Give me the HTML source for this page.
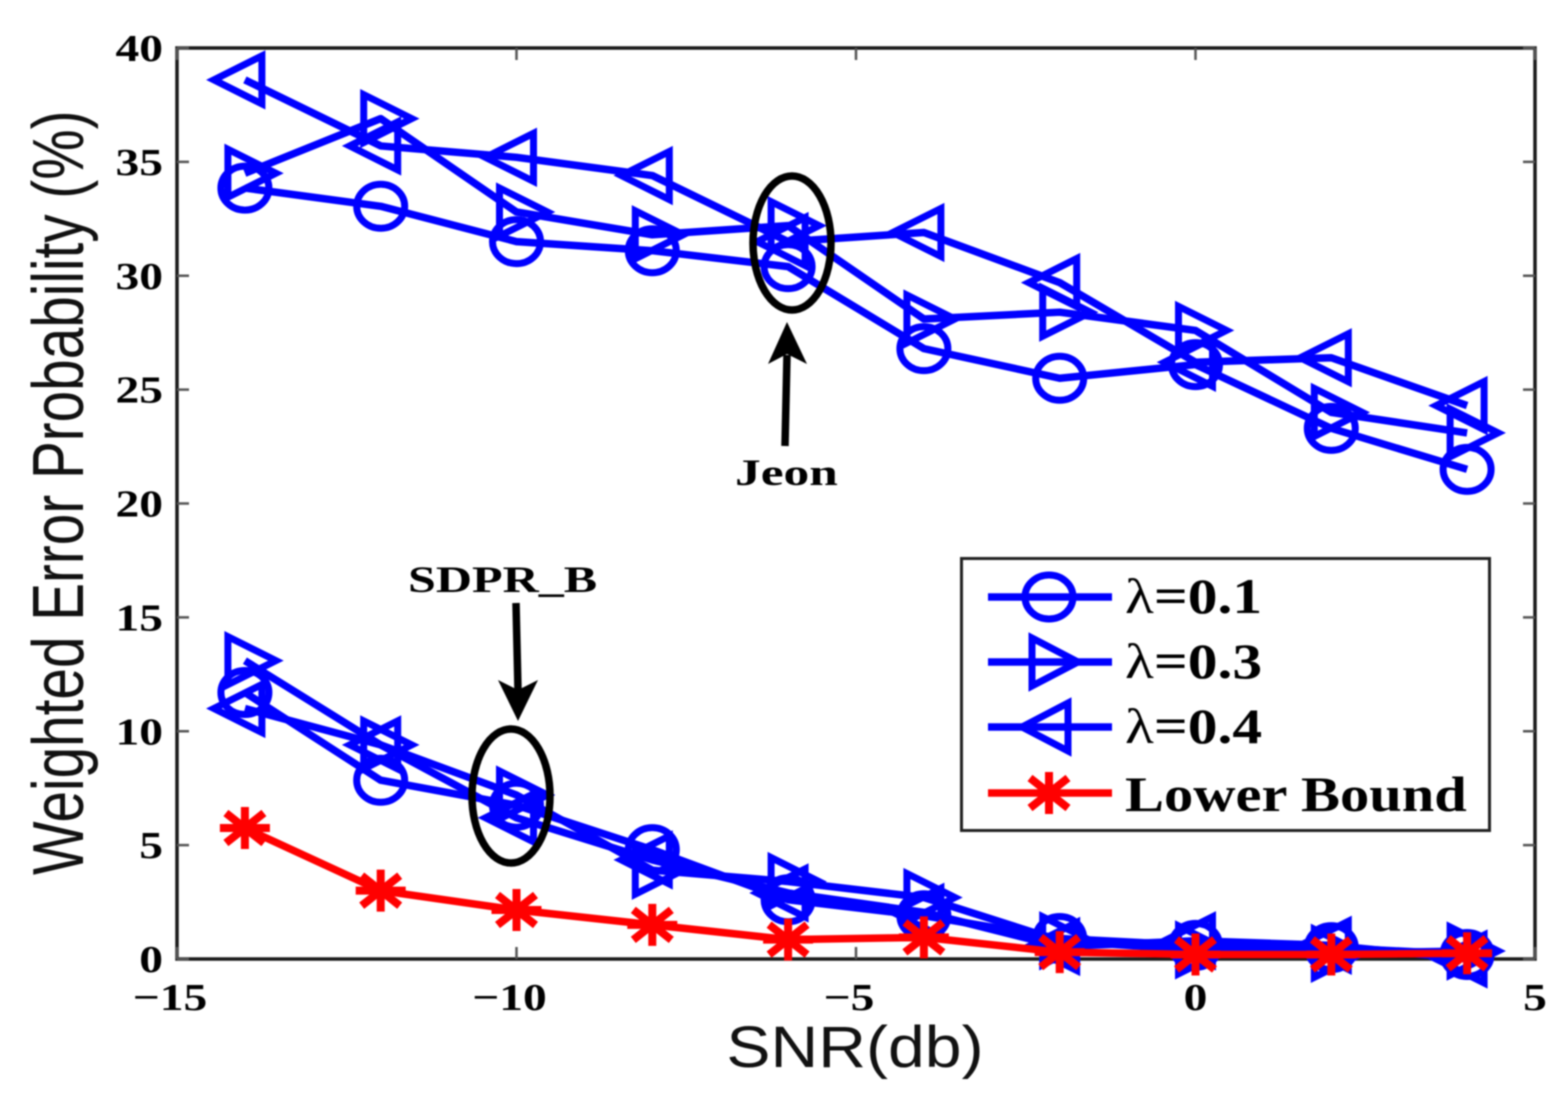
<!DOCTYPE html>
<html lang="en">
<head>
<meta charset="utf-8">
<title>Weighted Error Probability vs SNR</title>
<style>
html,body{margin:0;padding:0;background:#fff;width:1568px;height:1107px;overflow:hidden}
svg{display:block;filter:blur(0.7px)}
.tick-label{font-family:"Liberation Serif",serif;font-weight:bold;font-size:38px;fill:#000}
.axis-title{font-family:"Liberation Sans",sans-serif;fill:#111}
.serif-bold{font-family:"Liberation Serif",serif;font-weight:bold;fill:#000}
</style>
</head>
<body>
<svg id="chart" width="1568" height="1107" viewBox="0 0 1568 1107" xmlns="http://www.w3.org/2000/svg">
  <rect x="0" y="0" width="1568" height="1107" fill="#fff"/>
  <g id="frame"></g>
  <g id="series"></g>

  <g>
    <ellipse cx="792" cy="243" rx="39" ry="67" fill="none" stroke="#000" stroke-width="7.5"/>
    <line x1="785" y1="446" x2="787" y2="355" stroke="#000" stroke-width="7.5"/>
    <polygon points="787,322 807,364 787,354 768,364" fill="#000"/>
    <text class="serif-bold" font-size="37" transform="translate(735,485) scale(1.39,1)">Jeon</text>
  </g>
  <g>
    <ellipse cx="511" cy="796" rx="39" ry="67" fill="none" stroke="#000" stroke-width="7.5"/>
    <line x1="516" y1="603" x2="518" y2="690" stroke="#000" stroke-width="7.5"/>
    <polygon points="518,721 538,680 518,690 498,680" fill="#000"/>
    <text class="serif-bold" font-size="37" transform="translate(408,592) scale(1.354,1)">SDPR_B</text>
  </g>

  <g id="legend">
    <rect x="961.5" y="558.5" width="528" height="272" fill="#fff" stroke="#222" stroke-width="3"/>
    <g>
      <line x1="988" y1="597" x2="1112" y2="597" stroke="#0000ff" stroke-width="7.5"/>
      <ellipse cx="1049" cy="597" rx="24" ry="22" fill="none" stroke="#0000ff" stroke-width="7"/>
      <text class="serif-bold" font-size="50" transform="translate(1125,613) scale(1.19,1)"><tspan font-weight="normal">λ</tspan>=0.1</text>
    </g>
    <g>
      <line x1="988" y1="662" x2="1112" y2="662" stroke="#0000ff" stroke-width="7.5"/>
      <polygon points="1032,638 1032,686 1078,662" fill="none" stroke="#0000ff" stroke-width="7"/>
      <text class="serif-bold" font-size="50" transform="translate(1125,678) scale(1.19,1)"><tspan font-weight="normal">λ</tspan>=0.3</text>
    </g>
    <g>
      <line x1="988" y1="727" x2="1112" y2="727" stroke="#0000ff" stroke-width="7.5"/>
      <polygon points="1068,703 1068,751 1022,727" fill="none" stroke="#0000ff" stroke-width="7"/>
      <text class="serif-bold" font-size="50" transform="translate(1125,743) scale(1.19,1)"><tspan font-weight="normal">λ</tspan>=0.4</text>
    </g>
    <g>
      <line x1="988" y1="793" x2="1112" y2="793" stroke="#ff0000" stroke-width="7.5"/>
      <g stroke="#ff0000" stroke-width="8">
        <line x1="1049" y1="772" x2="1049" y2="814"/>
        <line x1="1030" y1="778" x2="1068" y2="808"/>
        <line x1="1030" y1="808" x2="1068" y2="778"/>
      </g>
      <text class="serif-bold" font-size="50" transform="translate(1125,811) scale(1.17,1)">Lower Bound</text>
    </g>
  </g>

  <text class="axis-title" font-size="58" text-anchor="middle" transform="translate(855,1067) scale(1.14,1)">SNR(db)</text>
  <text class="axis-title" font-size="56.7" transform="translate(83,875) rotate(-90) scale(1,1.27)">Weighted Error Probability (%)</text>
</svg>

<script>
const snrPoints = [-14, -12, -10, -8, -6, -4, -2, 0, 2, 4];
const xTickValues = [-15, -10, -5, 0, 5];
const xTickLabels = ['\u221215', '\u221210', '\u22125', '0', '5'];
const yTickValues = [0, 5, 10, 15, 20, 25, 30, 35, 40];
const yTickLabels = ['0', '5', '10', '15', '20', '25', '30', '35', '40'];

const jeonLambda01 = [33.85, 33.05, 31.5, 31.1, 30.4, 26.8, 25.5, 26.1, 23.3, 21.5];
const jeonLambda03 = [34.5, 36.9, 32.8, 31.8, 32.2, 28.1, 28.4, 27.6, 24.0, 23.1];
const jeonLambda04 = [38.6, 35.7, 35.2, 34.4, 31.5, 31.9, 29.7, 26.2, 26.4, 24.3];
const sdprLambda01 = [11.7, 7.85, 6.75, 4.8, 2.6, 1.9, 0.9, 0.6, 0.5, 0.2];
const sdprLambda03 = [13.1, 9.4, 7.2, 3.9, 3.4, 2.7, 0.8, 0.4, 0.25, 0.35];
const sdprLambda04 = [11.0, 9.4, 6.2, 4.35, 2.9, 2.05, 0.55, 0.8, 0.6, 0.0];
const lowerBound = [5.75, 3.0, 2.15, 1.5, 0.85, 0.95, 0.3, 0.2, 0.2, 0.25];

const plotLeft = 177, plotRight = 1535, plotTop = 48, plotBottom = 959;
const xMin = -15, xMax = 5, yMin = 0, yMax = 40;
const NS = 'http://www.w3.org/2000/svg';

function xScale(v) { return plotLeft + (v - xMin) / (xMax - xMin) * (plotRight - plotLeft); }
function yScale(v) { return plotBottom - (v - yMin) / (yMax - yMin) * (plotBottom - plotTop); }

function mk(tag, attrs, parent) {
  const el = document.createElementNS(NS, tag);
  for (const k in attrs) el.setAttribute(k, attrs[k]);
  parent.appendChild(el);
  return el;
}

const frame = document.getElementById('frame');
const seriesLayer = document.getElementById('series');

function drawFrame() {
  const box = mk('rect', {x: plotLeft, y: plotTop, width: plotRight - plotLeft, height: plotBottom - plotTop, fill: 'none', stroke: '#1a1a1a', 'stroke-width': 3.5}, frame);
  
  

  xTickValues.forEach(function (v, i) {
    const x = xScale(v);
    const bottomTick = mk('line', {x1: x, y1: plotBottom, x2: x, y2: plotBottom - 12, stroke: '#555', 'stroke-width': 2.5}, frame);
    
    
    const topTick = mk('line', {x1: x, y1: plotTop, x2: x, y2: plotTop + 12, stroke: '#555', 'stroke-width': 2.5}, frame);
    
    
    const label = mk('text', {'class': 'tick-label', 'text-anchor': 'middle', transform: 'translate(' + (v < 0 ? x - 7 : x) + ',1010) scale(1.25,1)'}, frame);
    
    
    label.textContent = xTickLabels[i];
  });

  yTickValues.forEach(function (v, i) {
    const y = yScale(v);
    const leftTick = mk('line', {x1: plotLeft, y1: y, x2: plotLeft + 12, y2: y, stroke: '#555', 'stroke-width': 2.5}, frame);
    
    
    const rightTick = mk('line', {x1: plotRight, y1: y, x2: plotRight - 12, y2: y, stroke: '#555', 'stroke-width': 2.5}, frame);
    
    
    const label = mk('text', {'class': 'tick-label', 'text-anchor': 'end', transform: 'translate(163,' + (y + 13) + ') scale(1.25,1)'}, frame);
    
    
    label.textContent = yTickLabels[i];
  });
}

function drawMarker(group, shape, cx, cy, color) {
  let m;
  if (shape === 'circle') {
    m = mk('ellipse', {cx: cx, cy: cy, rx: 24, ry: 22, fill: 'none', stroke: color, 'stroke-width': 7}, group);
    
  } else if (shape === 'right') {
    m = mk('polygon', {points: (cx - 17) + ',' + (cy - 24) + ' ' + (cx - 17) + ',' + (cy + 24) + ' ' + (cx + 31) + ',' + cy, fill: 'none', stroke: color, 'stroke-width': 7}, group);
    
  } else if (shape === 'left') {
    m = mk('polygon', {points: (cx + 17) + ',' + (cy - 24) + ' ' + (cx + 17) + ',' + (cy + 24) + ' ' + (cx - 31) + ',' + cy, fill: 'none', stroke: color, 'stroke-width': 7}, group);
    
  } else {
    m = mk('g', {stroke: color, 'stroke-width': 8}, group);
    
    mk('line', {x1: cx, y1: cy - 21, x2: cx, y2: cy + 21}, m);
    mk('line', {x1: cx - 25, y1: cy, x2: cx + 25, y2: cy}, m);
    mk('line', {x1: cx - 19, y1: cy - 15, x2: cx + 19, y2: cy + 15}, m);
    mk('line', {x1: cx - 19, y1: cy + 15, x2: cx + 19, y2: cy - 15}, m);
  }
  
}

function drawSeries(name, values, shape, color) {
  const group = mk('g', {}, seriesLayer);
  
  
  const pts = values.map(function (v, i) { return xScale(snrPoints[i]) + ',' + yScale(v); }).join(' ');
  const line = mk('polyline', {points: pts, fill: 'none', stroke: color, 'stroke-width': 7.5, 'stroke-linejoin': 'round'}, group);
  
  
  values.forEach(function (v, i) {
    drawMarker(group, shape, xScale(snrPoints[i]), yScale(v), color);
  });
}

drawFrame();
drawSeries('jeon-lambda-0-1', jeonLambda01, 'circle', '#0000ff');
drawSeries('jeon-lambda-0-3', jeonLambda03, 'right', '#0000ff');
drawSeries('jeon-lambda-0-4', jeonLambda04, 'left', '#0000ff');
drawSeries('sdpr-lambda-0-1', sdprLambda01, 'circle', '#0000ff');
drawSeries('sdpr-lambda-0-3', sdprLambda03, 'right', '#0000ff');
drawSeries('sdpr-lambda-0-4', sdprLambda04, 'left', '#0000ff');
drawSeries('lower-bound', lowerBound, 'asterisk', '#ff0000');
</script>
</body>
</html>
